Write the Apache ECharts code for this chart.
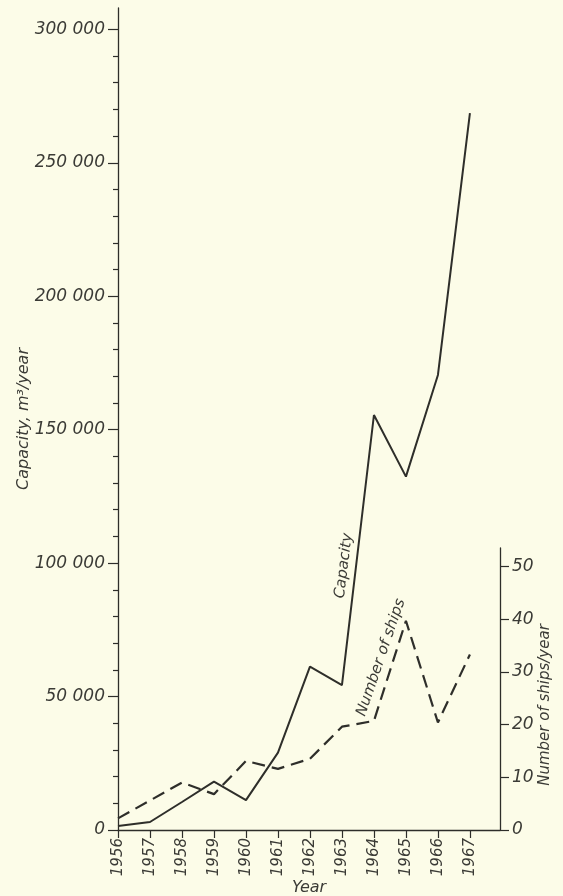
<!DOCTYPE html>
<html>
<head>
<meta charset="utf-8">
<script src="https://cdn.jsdelivr.net/npm/echarts@6/dist/echarts.min.js"></script>
<style>
  html, body { margin: 0; padding: 0; background: #fcfce8; }
  #chart { width: 563px; height: 896px; }
</style>
</head>
<body>
<div id="chart"></div>
<script>
// Tanker fleet growth: yearly capacity and number of ships
const years = [1956, 1957, 1958, 1959, 1960, 1961, 1962, 1963, 1964, 1965, 1966, 1967];
const capacity = [1500, 3000, 10500, 18100, 11200, 29000, 61200, 54300, 155500, 132400, 170500, 268600];
const ships = [2.2, 5.6, 9.0, 6.8, 13.1, 11.6, 13.5, 19.6, 20.7, 39.7, 20.4, 33.3];

const capacityTicks = [0, 50000, 100000, 150000, 200000, 250000, 300000];
const capacityMinorTicks = [10000, 20000, 30000, 40000, 60000, 70000, 80000, 90000,
  110000, 120000, 130000, 140000, 160000, 170000, 180000, 190000,
  210000, 220000, 230000, 240000, 260000, 270000, 280000, 290000];
const shipTicks = [0, 10, 20, 30, 40, 50];

const ink = '#2e2e2a';
const textInk = '#3b3b36';
const font = 'DejaVu Sans';

const fmtThousands = v => v === 0 ? '0' : String(v).replace(/\B(?=(\d{3})+$)/g, ' ');

const chart = echarts.init(document.getElementById('chart'));
chart.setOption({
  backgroundColor: '#fcfce8',
  animation: false,
  grid: [
    { left: 118, right: 63, top: 8, bottom: 66, containLabel: false, outerBoundsMode: 'none' },
    { left: 118, right: 63, top: 548, bottom: 66, containLabel: false, outerBoundsMode: 'none' }
  ],
  xAxis: [
    {
      type: 'value', gridIndex: 0, min: 1956, max: 1967.94,
      splitLine: { show: false },
      axisLine: { show: true, lineStyle: { color: ink, width: 1.3 } },
      axisTick: { show: true, customValues: years, length: 8, lineStyle: { color: ink, width: 1.2 } },
      axisLabel: {
        customValues: years, rotate: 90, margin: 8,
        formatter: v => String(v),
        fontFamily: font, fontStyle: 'italic', fontSize: 15,
        color: v => (v === 1958 ? '#3f7a55' : textInk)
      },
      name: 'Year', nameLocation: 'middle', nameGap: 50, nameMoveOverlap: false,
      nameTextStyle: { fontFamily: font, fontStyle: 'italic', fontSize: 16, color: textInk }
    },
    {
      type: 'value', gridIndex: 1, min: 1956, max: 1967.94, show: false
    }
  ],
  yAxis: [
    {
      type: 'value', gridIndex: 0, position: 'left', min: 0, max: 308000,
      splitLine: { show: false },
      axisLine: { show: true, lineStyle: { color: ink, width: 1.3 } },
      axisTick: { show: true, customValues: capacityTicks, length: 10, lineStyle: { color: ink, width: 1.2 } },
      axisLabel: {
        customValues: capacityTicks, margin: 13, formatter: fmtThousands,
        fontFamily: font, fontStyle: 'italic', fontSize: 17, color: textInk
      },
      name: 'Capacity, m³/year', nameLocation: 'middle', nameGap: 86, nameRotate: 90, nameMoveOverlap: false,
      nameTextStyle: { fontFamily: font, fontStyle: 'italic', fontSize: 16, color: textInk }
    },
    {
      type: 'value', gridIndex: 1, position: 'right', min: 0, max: 53.5,
      splitLine: { show: false },
      axisLine: { show: true, lineStyle: { color: ink, width: 1.3 } },
      axisTick: { show: true, customValues: shipTicks, length: 9, lineStyle: { color: ink, width: 1.2 } },
      axisLabel: {
        customValues: shipTicks, margin: 12,
        fontFamily: font, fontStyle: 'italic', fontSize: 17, color: textInk
      },
      name: 'Number of ships/year', nameLocation: 'middle', nameGap: 38, nameRotate: 90, nameMoveOverlap: false,
      nameTextStyle: { fontFamily: font, fontStyle: 'italic', fontSize: 15, color: textInk, padding: [0, 32, 0, 0] }
    },
    {
      // minor ticks of the capacity scale
      type: 'value', gridIndex: 0, position: 'left', min: 0, max: 308000,
      splitLine: { show: false },
      axisLine: { show: false },
      axisTick: { show: true, customValues: capacityMinorTicks, length: 5, lineStyle: { color: ink, width: 1.2 } },
      axisLabel: { show: false }
    }
  ],
  series: [
    {
      name: 'Capacity', type: 'line', xAxisIndex: 0, yAxisIndex: 0,
      data: years.map((y, i) => [y, capacity[i]]),
      showSymbol: false, symbol: 'none',
      lineStyle: { color: ink, width: 2 },
      markPoint: {
        symbol: 'circle', symbolSize: 0, silent: true,
        data: [{ coord: [1963.06, 99000] }],
        label: {
          show: true, position: 'inside', formatter: 'Capacity', rotate: 83,
          fontFamily: font, fontStyle: 'italic', fontSize: 15, color: textInk
        }
      }
    },
    {
      name: 'Number of ships', type: 'line', xAxisIndex: 1, yAxisIndex: 1,
      data: years.map((y, i) => [y, ships[i]]),
      showSymbol: false, symbol: 'none',
      lineStyle: { color: ink, width: 2.2, type: [13, 7] },
      markPoint: {
        symbol: 'circle', symbolSize: 0, silent: true,
        data: [{ coord: [1964.22, 32.7] }],
        label: {
          show: true, position: 'inside', formatter: 'Number of ships', rotate: 71,
          fontFamily: font, fontStyle: 'italic', fontSize: 15, color: textInk
        }
      }
    }
  ]
});
</script>
</body>
</html>
